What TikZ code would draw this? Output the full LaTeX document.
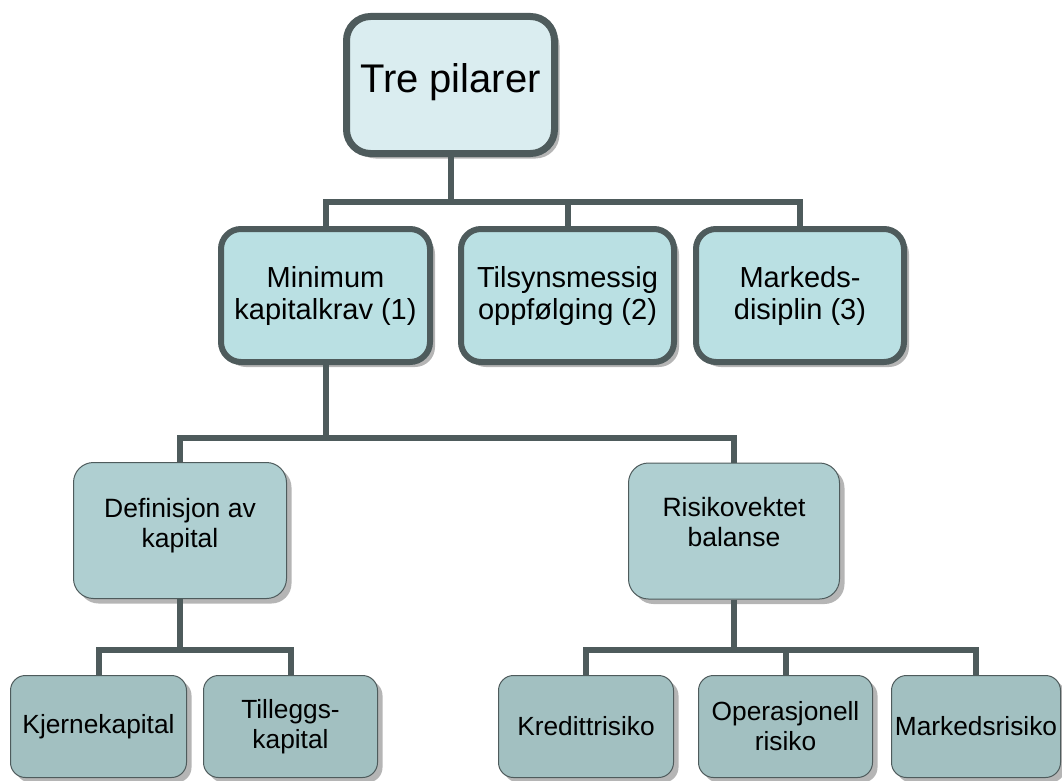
\documentclass[tikz,border=0pt]{standalone}
\usepackage{fontspec}
\setmainfont{Liberation Sans}
\usetikzlibrary{shadows}
\definecolor{bord}{HTML}{4E5B5C}
\definecolor{cA}{HTML}{DAEDF0}
\definecolor{cB}{HTML}{BAE0E3}
\definecolor{cC}{HTML}{AFCFD1}
\definecolor{cD}{HTML}{A2C0C1}
\definecolor{shd}{HTML}{B5B5B5}
\tikzset{
  box/.style={rectangle, draw=bord, align=center, inner sep=0pt, text=black,
    drop shadow={shadow xshift=5pt, shadow yshift=-5pt, fill=shd, opacity=1}},
  lvlA/.style={box, fill=cA, line width=7pt, rounded corners=24pt,
    minimum height=137pt, font=\fontsize{40}{44}\selectfont},
  lvlB/.style={box, fill=cB, line width=6pt, rounded corners=20pt,
    minimum height=133pt, font=\fontsize{29}{32}\selectfont},
  lvlC/.style={box, fill=cC, line width=1pt, rounded corners=20pt,
    minimum height=136pt, font=\fontsize{26.5}{30}\selectfont},
  lvlD/.style={box, fill=cD, line width=1pt, rounded corners=15pt,
    minimum height=102pt, font=\fontsize{26.3}{30}\selectfont},
  conn/.style={draw=bord, line width=6pt},
}
\begin{document}
\begin{tikzpicture}[x=1pt,y=-1pt]
\useasboundingbox (0,0) rectangle (1062,781);
% nodes
\node[lvlA, minimum width=208pt] (top) at (450.5,85) {Tre pilarer\\[-30pt]};
\node[lvlB, minimum width=209pt] (m1) at (325.5,295.5) {Minimum\\kapitalkrav (1)};
\node[lvlB, minimum width=213pt] (m2) at (567.5,295.5) {Tilsynsmessig\\oppfølging (2)};
\node[lvlB, minimum width=208pt] (m3) at (800,295.5) {Markeds-\\disiplin (3)};
\node[lvlC, minimum width=213pt] (d1) at (180,530.5) {Definisjon av\\kapital\\[-14pt]};
\node[lvlC, minimum width=211pt] (d2) at (734,531) {Risikovektet\\balanse\\[-12pt]};
\node[lvlD, minimum width=176pt] (e1) at (98.5,726.5) {Kjernekapital};
\node[lvlD, minimum width=174pt] (e2) at (290.5,726.5) {Tilleggs-\\kapital};
\node[lvlD, minimum width=175pt] (e3) at (586,726.5) {Kredittrisiko};
\node[lvlD, minimum width=174pt] (e4) at (785.5,726.5) {Operasjonell\\risiko};
\node[lvlD, minimum width=169pt] (e5) at (976,726.5) {Markedsrisiko};
% junction coordinates
\coordinate (j1) at (451,202);
\coordinate (j2) at (325.5,438);
\coordinate (j3) at (180,650);
\coordinate (j4) at (734,650);
% connectors
\draw[conn] (top.south) -- (top.south |- j1);
\draw[conn] (m1.north) -- (m1.north |- j1) -- (m3.north |- j1) -- (m3.north);
\draw[conn] (m2.north) -- (m2.north |- j1);
\draw[conn] (m1.south) -- (m1.south |- j2);
\draw[conn] (d1.north) -- (d1.north |- j2) -- (d2.north |- j2) -- (d2.north);
\draw[conn] (d1.south) -- (d1.south |- j3);
\draw[conn] (e1.north) -- (e1.north |- j3) -- (e2.north |- j3) -- (e2.north);
\draw[conn] (d2.south) -- (d2.south |- j4);
\draw[conn] (e3.north) -- (e3.north |- j4) -- (e5.north |- j4) -- (e5.north);
\draw[conn] (e4.north) -- (e4.north |- j4);
\end{tikzpicture}
\end{document}
